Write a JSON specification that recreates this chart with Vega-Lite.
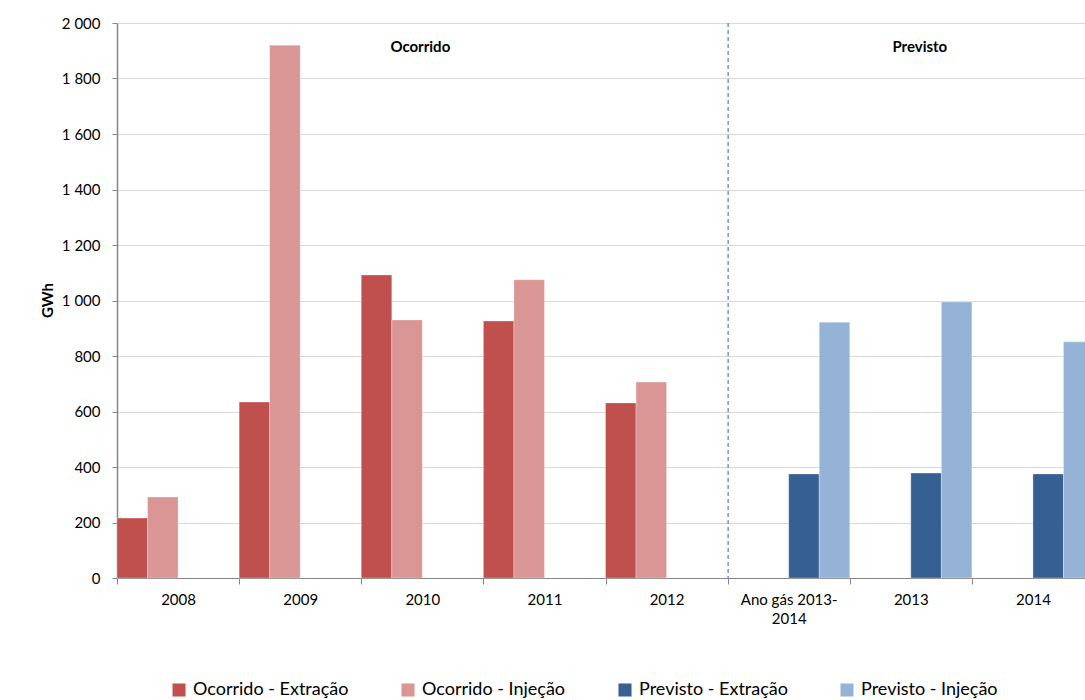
{
  "$schema": "https://vega.github.io/schema/vega-lite/v6.json",
  "width": 968,
  "height": 555,
  "autosize": {"type": "none"},
  "padding": {"left": 117, "top": 23, "right": 0, "bottom": 122},
  "config": {"font": "Lato", "view": {"stroke": null}},
  "datasets": {
    "barras": [
      {"categoria": "2008", "serie": "Ocorrido - Extração", "gwh": 216},
      {"categoria": "2008", "serie": "Ocorrido - Injeção", "gwh": 292},
      {"categoria": "2009", "serie": "Ocorrido - Extração", "gwh": 634},
      {"categoria": "2009", "serie": "Ocorrido - Injeção", "gwh": 1920},
      {"categoria": "2010", "serie": "Ocorrido - Extração", "gwh": 1092},
      {"categoria": "2010", "serie": "Ocorrido - Injeção", "gwh": 930},
      {"categoria": "2011", "serie": "Ocorrido - Extração", "gwh": 926},
      {"categoria": "2011", "serie": "Ocorrido - Injeção", "gwh": 1075},
      {"categoria": "2012", "serie": "Ocorrido - Extração", "gwh": 631},
      {"categoria": "2012", "serie": "Ocorrido - Injeção", "gwh": 706},
      {"categoria": "Ano gás 2013-2014", "serie": "Previsto - Extração", "gwh": 375},
      {"categoria": "Ano gás 2013-2014", "serie": "Previsto - Injeção", "gwh": 922},
      {"categoria": "2013", "serie": "Previsto - Extração", "gwh": 378},
      {"categoria": "2013", "serie": "Previsto - Injeção", "gwh": 995},
      {"categoria": "2014", "serie": "Previsto - Extração", "gwh": 375},
      {"categoria": "2014", "serie": "Previsto - Injeção", "gwh": 851}
    ],
    "divisor": [{"categoria": "Ano gás 2013-2014"}],
    "rotulo1": [{"categoria": "2010", "gwh": 1913, "texto": "Ocorrido"}],
    "rotulo2": [{"categoria": "2013", "gwh": 1913, "texto": "Previsto"}]
  },
  "layer": [
    {
      "data": {"name": "barras"},
      "mark": {"type": "bar", "stroke": "#ffffff", "strokeOpacity": 0.5, "strokeWidth": 0.6},
      "encoding": {
        "x": {
          "field": "categoria", "type": "nominal", "sort": null,
          "scale": {
            "domain": ["2008", "2009", "2010", "2011", "2012", "Ano gás 2013-2014", "2013", "2014"],
            "range": [0, 977], "paddingInner": 0, "paddingOuter": 0
          },
          "axis": {
            "title": null, "labelAngle": 0, "tickBand": "extent", "tickSize": 6,
            "tickColor": "#868686", "domainColor": "#868686", "labelFontSize": 15,
            "labelColor": "#000000", "labelPadding": 8, "labelFont": "Lato",
            "labelExpr": "datum.value == 'Ano gás 2013-2014' ? ['Ano gás 2013-', '2014'] : datum.value",
            "labelLineHeight": 19
          }
        },
        "xOffset": {
          "field": "serie", "type": "nominal",
          "scale": {
            "domain": ["Ocorrido - Extração", "Ocorrido - Injeção", "Previsto - Extração", "Previsto - Injeção"],
            "paddingInner": 0, "paddingOuter": 0
          }
        },
        "y": {
          "field": "gwh", "type": "quantitative",
          "scale": {"domain": [0, 2000], "nice": false},
          "axis": {
            "title": "GWh", "titleFontSize": 15, "titleFontWeight": "bold", "titleColor": "#000000",
            "titleX": -70, "titleY": 277, "titleAngle": -90, "titleAlign": "center", "titleBaseline": "middle",
            "values": [0, 200, 400, 600, 800, 1000, 1200, 1400, 1600, 1800, 2000],
            "labelExpr": "replace(format(datum.value, ','), ',', ' ')",
            "labelFontSize": 15, "labelColor": "#000000", "labelPadding": 12, "tickSize": 5,
            "tickColor": "#868686", "domainColor": "#868686", "domainWidth": 1.5,
            "grid": true, "gridColor": "#D9D9D9", "gridWidth": 1
          }
        },
        "color": {
          "field": "serie", "type": "nominal",
          "scale": {
            "domain": ["Ocorrido - Extração", "Ocorrido - Injeção", "Previsto - Extração", "Previsto - Injeção"],
            "range": ["#C0504D", "#D99694", "#376092", "#95B3D7"]
          },
          "legend": {
            "orient": "none", "legendX": 53, "legendY": 658, "direction": "horizontal",
            "title": null, "symbolType": "square", "symbolSize": 170, "symbolStrokeWidth": 0,
            "labelFontSize": 18, "labelColor": "#000000", "columnPadding": 50, "labelOffset": 5,
            "labelLimit": 300
          }
        }
      }
    },
    {
      "data": {"name": "divisor"},
      "mark": {"type": "rule", "strokeDash": [4, 3], "stroke": "#4F81BD", "strokeWidth": 1.2, "xOffset": 0.5},
      "encoding": {
        "x": {"field": "categoria", "type": "nominal", "bandPosition": 0}
      }
    },
    {
      "data": {"name": "rotulo1"},
      "mark": {"type": "text", "fontWeight": "bold", "fontSize": 15, "color": "#000000", "dx": -2},
      "encoding": {
        "x": {"field": "categoria", "type": "nominal"},
        "y": {"field": "gwh", "type": "quantitative"},
        "text": {"field": "texto"}
      }
    },
    {
      "data": {"name": "rotulo2"},
      "mark": {"type": "text", "fontWeight": "bold", "fontSize": 15, "color": "#000000", "dx": 9},
      "encoding": {
        "x": {"field": "categoria", "type": "nominal"},
        "y": {"field": "gwh", "type": "quantitative"},
        "text": {"field": "texto"}
      }
    }
  ]
}
